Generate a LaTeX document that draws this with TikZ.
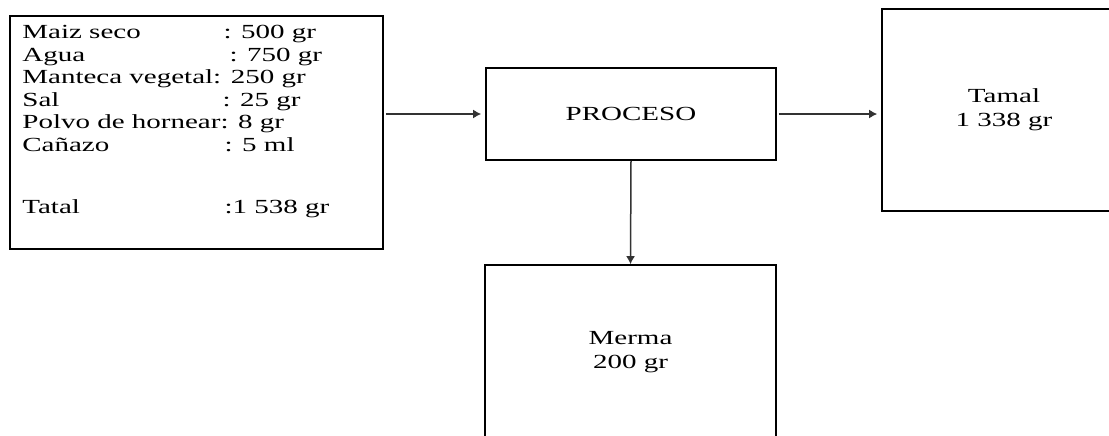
\documentclass[tikz,border=0pt]{standalone}
\usepackage{fontspec}
\setmainfont{Liberation Serif}[FakeStretch=1.45]
\usetikzlibrary{arrows.meta}

\tikzset{
  block/.style={draw, line width=0.8pt, inner sep=0pt, align=center,
    font=\fontsize{10}{12}\selectfont},
  flow/.style={draw=black!80, line width=0.75pt, -{Latex[length=4pt,width=4.5pt]}}
}

\begin{document}
\begin{tikzpicture}[x=0.5pt,y=-0.5pt]
  \useasboundingbox (0,0) rectangle (1109,435);
  \clip (0,0) rectangle (1109,435);

  %%%%%%%%%%%Draw the ingredient box%%%%%%%%%%%
  \node[block, minimum width=186.5pt, minimum height=116.5pt] (ingr) at (196.5,132.5) {};
  \node[anchor=north west, inner sep=0pt, font=\fontsize{10}{11.25}\selectfont] (lista) at (22,22.6) {%
    \begin{tabular}{@{}l@{}l@{}}
      Maiz seco        & \hspace{1.5pt}: 500 gr\\
      Agua             & \hspace{4.5pt}: 750 gr\\
      \multicolumn{2}{@{}l@{}}{Manteca vegetal: 250 gr}\\
      Sal              & \hspace{1pt}: 25 gr\\
      Polvo de hornear & : 8 gr\\
      Cañazo           & \hspace{2pt}: 5 ml\\[19.8pt]
      Tatal            & \hspace{2pt}:1 538 gr
    \end{tabular}};

  %%%%%%%%%%%Draw the process box%%%%%%%%%%%%%%
  \node[block, minimum width=145pt, minimum height=46pt] (proc) at (631,114) {PROCESO};

  %%%%%%%%%%%Draw the two outputs%%%%%%%%%%%%%%
  \node[block, minimum width=122pt, minimum height=101pt] (tamal) at (1004,110) {Tamal\\1 338 gr};
  \node[block, minimum width=145.5pt, minimum height=87.5pt] (merma) at (630.5,352.5) {Merma\\200 gr};

  %%%%%%%%%%%Draw the arrows%%%%%%%%%%%%%%%%%%%
  \draw[flow] ([xshift=1pt]ingr.east |- proc.west) -- ([xshift=-2pt]proc.west);
  \draw[flow] ([xshift=1pt]proc.east) -- ([xshift=-2pt]proc.east -| tamal.west);
  \draw[flow] (proc.south) -- (merma.north);
\end{tikzpicture}
\end{document}
